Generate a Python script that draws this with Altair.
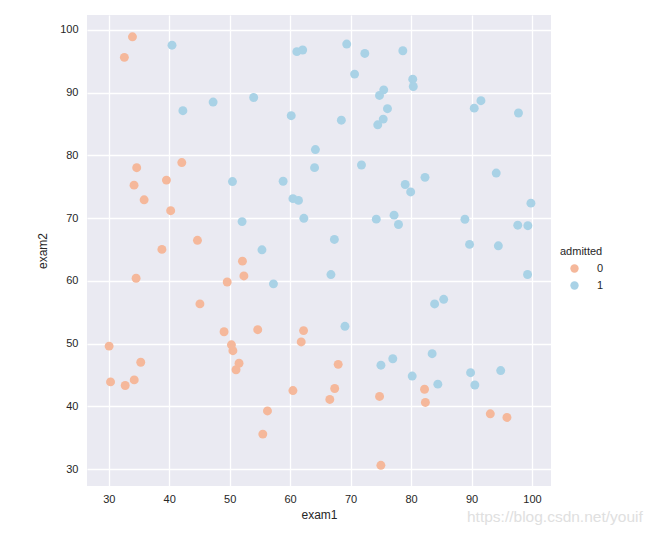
import altair as alt
import pandas as pd

exam1 = [34.62, 30.29, 35.85, 60.18, 79.03, 45.08, 61.11, 75.02, 76.10, 84.43,
         95.86, 75.01, 82.31, 69.36, 39.54, 53.97, 69.07, 67.95, 70.66, 76.98,
         67.37, 89.68, 50.53, 34.21, 77.92, 62.27, 80.19, 93.11, 61.83, 38.79,
         61.38, 85.40, 52.11, 52.05, 40.24, 54.64, 33.92, 64.18, 74.79, 34.18,
         83.90, 51.55, 94.44, 82.37, 51.05, 62.22, 77.19, 97.77, 62.07, 91.56,
         79.94, 99.27, 90.55, 34.52, 50.29, 49.59, 97.65, 32.58, 74.25, 71.80,
         75.40, 35.29, 56.25, 30.06, 44.67, 66.56, 40.46, 49.07, 80.28, 66.75,
         32.72, 64.04, 72.35, 60.46, 58.84, 99.83, 47.26, 50.46, 60.46, 82.23,
         88.91, 94.83, 67.32, 57.24, 80.37, 68.47, 42.08, 75.48, 78.64, 52.35,
         94.09, 90.45, 55.48, 74.49, 89.85, 83.49, 42.26, 99.32, 55.34, 74.78]
exam2 = [78.02, 43.89, 72.90, 86.31, 75.34, 56.32, 96.51, 46.55, 87.42, 43.53,
         38.23, 30.60, 76.48, 97.72, 76.04, 89.21, 52.74, 46.68, 92.93, 47.58,
         42.84, 65.80, 48.86, 44.21, 68.97, 69.95, 44.82, 38.80, 50.26, 65.00,
         72.81, 57.05, 63.13, 69.43, 71.17, 52.21, 98.87, 80.91, 41.57, 75.24,
         56.31, 46.86, 65.57, 40.62, 45.82, 52.06, 70.46, 86.73, 96.77, 88.70,
         74.16, 61.00, 43.39, 60.40, 49.80, 59.81, 68.86, 95.60, 69.82, 78.45,
         85.76, 47.02, 39.26, 49.59, 66.45, 41.09, 97.54, 51.88, 92.12, 60.99,
         43.31, 78.03, 96.23, 73.09, 75.86, 72.37, 88.48, 75.81, 42.51, 42.72,
         69.80, 45.69, 66.59, 59.51, 90.96, 85.59, 78.84, 90.42, 96.65, 60.77,
         77.16, 87.51, 35.57, 84.85, 45.36, 48.38, 87.10, 68.78, 64.93, 89.53]
admitted = [0, 0, 0, 1, 1, 0, 1, 1, 1, 1,
            0, 0, 1, 1, 0, 1, 1, 0, 1, 1,
            0, 1, 0, 0, 1, 1, 1, 0, 0, 0,
            1, 1, 0, 1, 0, 0, 0, 1, 0, 0,
            1, 0, 1, 0, 0, 0, 1, 1, 1, 1,
            1, 1, 1, 0, 0, 0, 1, 0, 1, 1,
            1, 0, 0, 0, 0, 0, 1, 0, 1, 1,
            0, 1, 1, 1, 1, 1, 1, 1, 0, 0,
            1, 1, 1, 1, 1, 1, 0, 1, 1, 0,
            1, 1, 0, 1, 1, 1, 1, 1, 1, 1]

classes = ["0", "1"]
class_colors = ["#F5B89B", "#A9D2E6"]
ticks = [30, 40, 50, 60, 70, 80, 90, 100]
legend_title = "admitted"
watermark_text = "https://blog.csdn.net/youif"

df = pd.DataFrame({"exam1": exam1, "exam2": exam2,
                   "admitted": [str(a) for a in admitted]})

FONT = "Liberation Sans"

points = alt.Chart(df).mark_circle(size=80, opacity=1).encode(
    x=alt.X("exam1:Q", scale=alt.Scale(domain=[26.4, 103.15], nice=False, zero=False),
            axis=alt.Axis(values=ticks, title="exam1", domain=False, ticks=False,
                          labelPadding=7, titlePadding=5, gridColor="white",
                          gridWidth=1.3, gridOpacity=1, labelFontSize=11, titleFontSize=12,
                          labelColor="#262626", titleColor="#262626",
                          labelFont=FONT, titleFont=FONT, titleFontWeight="normal")),
    y=alt.Y("exam2:Q", scale=alt.Scale(domain=[27.3, 102.35], nice=False, zero=False),
            axis=alt.Axis(values=ticks, title="exam2", domain=False, ticks=False,
                          labelPadding=9, titlePadding=10, gridColor="white",
                          gridWidth=1.3, gridOpacity=1, labelFontSize=11, titleFontSize=12,
                          labelColor="#262626", titleColor="#262626",
                          labelFont=FONT, titleFont=FONT, titleFontWeight="normal")),
    color=alt.Color("admitted:N", scale=alt.Scale(domain=classes, range=class_colors),
                    legend=alt.Legend(title=None, orient="none", legendX=482,
                                      legendY=248, symbolType="circle", symbolSize=70,
                                      symbolOpacity=1, labelFontSize=11,
                                      labelFont=FONT, labelColor="#262626",
                                      rowPadding=5, labelOffset=17,
                                      symbolStrokeWidth=0)),
)

title_text = alt.Chart(pd.DataFrame({"t": [legend_title]})).mark_text(
    align="left", baseline="middle", fontSize=11, color="#262626", font=FONT
).encode(x=alt.value(473), y=alt.value(237), text="t:N")

watermark = alt.Chart(pd.DataFrame({"t": [watermark_text]})).mark_text(
    align="left", baseline="middle", fontSize=15.5, color="#E0E0E0", font=FONT
).encode(x=alt.value(380), y=alt.value(502), text="t:N")

chart = alt.layer(points, title_text, watermark).properties(
    width=464, height=471,
    background="white",
    autosize=alt.AutoSizeParams(type="none"),
    padding={"left": 79, "top": 7, "right": 97, "bottom": 41},
).configure_view(fill="#EAEAF2", strokeWidth=0)

chart.save("out.html", embed_options={"renderer": "svg", "actions": False})
